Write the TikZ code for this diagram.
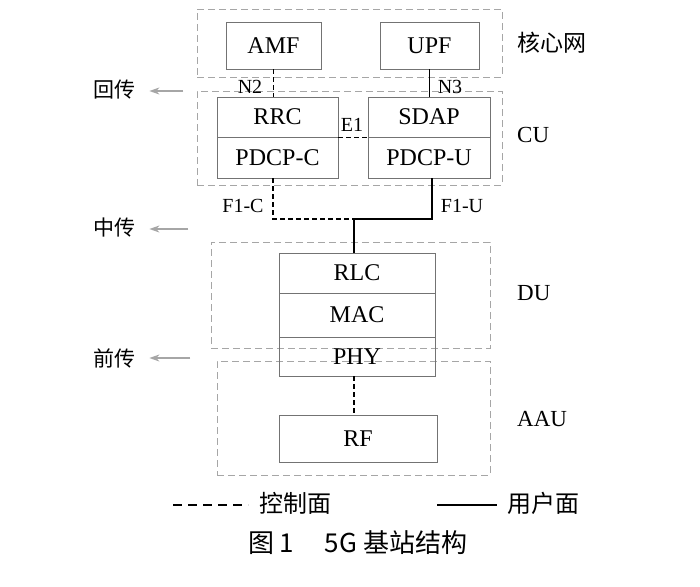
\documentclass[tikz,border=0pt]{standalone}
\usepackage{fontspec}
\setmainfont{Liberation Serif}
\newfontfamily\cjk{Noto Sans CJK SC}
\usetikzlibrary{arrows.meta}

\begin{document}
\begin{tikzpicture}[
    x=1pt, y=-1pt,
    >=Stealth,
    layer/.style={rectangle, draw=black!55, line width=0.8pt, inner sep=0pt, font=\fontsize{24}{26}\selectfont},
    region/.style={rectangle, draw=black!35, dash pattern=on 7pt off 4pt, line width=0.8pt, inner sep=0pt},
    ctrl/.style={dash pattern=on 5pt off 3pt, line width=1.1pt},
    user/.style={line width=1.1pt},
    ifname/.style={font=\fontsize{20}{21}\selectfont, inner sep=0pt},
    unitname/.style={anchor=west, font=\fontsize{23}{25}\selectfont, inner sep=0pt},
    haul/.style={anchor=west, font=\cjk\fontsize{21}{22}\selectfont, inner sep=0pt},
    hauldir/.style={-{Stealth[length=10pt, width=7pt]}, draw=black!35, fill=black!35, line width=1.3pt},
]

\useasboundingbox (0,0) rectangle (700,586);

% dashed regions
\node[region, minimum width=305pt, minimum height=68pt]  (core) at (349.5,43) {};
\node[region, minimum width=305pt, minimum height=94pt]  (cu)   at (349.5,138) {};
\node[region, minimum width=279pt, minimum height=106pt] (du)   at (350.5,295) {};
\node[region, minimum width=273pt, minimum height=114pt] (aau)  at (353.5,418) {};

% protocol boxes
\node[layer, minimum width=95pt,  minimum height=47pt] (amf)   at (273.5,45.5) {AMF};
\node[layer, minimum width=99pt,  minimum height=47pt] (upf)   at (429.5,45.5) {UPF};
\node[layer, minimum width=121pt, minimum height=40pt] (rrc)   at (277.5,117) {RRC};
\node[layer, minimum width=121pt, minimum height=41pt] (pdcpc) at (277.5,157.5) {PDCP-C};
\node[layer, minimum width=122pt, minimum height=40pt] (sdap)  at (429,117) {SDAP};
\node[layer, minimum width=122pt, minimum height=41pt] (pdcpu) at (429,157.5) {PDCP-U};
\node[layer, minimum width=156pt, minimum height=40pt] (rlc)   at (357,273) {RLC};
\node[layer, minimum width=156pt, minimum height=44pt] (mac)   at (357,315) {MAC};
\node[layer, minimum width=156pt, minimum height=39pt] (phy)   at (357,356.5) {PHY};
\node[layer, minimum width=158pt, minimum height=47pt] (rf)    at (358,438.5) {RF};

% unit names
\node[unitname] (corename) at (517,43) {\cjk 核心网};
\node[unitname] (cuname)   at (517,135) {CU};
\node[unitname] (duname)   at (517,293) {DU};
\node[unitname] (aauname)  at (517,419) {AAU};

% interfaces
\coordinate (f1) at (354,219);
\draw[ctrl] (amf.south) -- (amf.south |- rrc.north);
\draw[user] (upf.south) -- (upf.south |- sdap.north);
\draw[ctrl] (rrc.south east) -- (sdap.south west);
\draw[ctrl] ([xshift=-4.5pt]pdcpc.south) |- (f1);
\draw[user] ([xshift=3pt]pdcpu.south) |- (f1) -- (f1 |- rlc.north);
\draw[ctrl] (f1 |- phy.south) -- (f1 |- rf.north);

\node[ifname] (n2)  at (250,87)  {N2};
\node[ifname] (n3)  at (450,87)  {N3};
\node[ifname] (e1)  at (352,125) {E1};
\node[ifname] (f1c) at (243,206) {F1-C};
\node[ifname] (f1u) at (462,206) {F1-U};

% transport
\node[haul] (backhaul)  at (93,90)  {回传};
\node[haul] (midhaul)   at (93,228) {中传};
\node[haul] (fronthaul) at (93,358) {前传};
\coordinate (bh) at (183,91);
\coordinate (mh) at (188,229);
\coordinate (fh) at (190,358);
\draw[hauldir] (bh) -- ([xshift=14pt]backhaul.east |- bh);
\draw[hauldir] (mh) -- ([xshift=14pt]midhaul.east |- mh);
\draw[hauldir] (fh) -- ([xshift=14pt]fronthaul.east |- fh);

% legend
\coordinate (ca) at (173,505);
\coordinate (cb) at (248,505);
\coordinate (ua) at (437,505);
\coordinate (ub) at (497,505);
\draw[dash pattern=on 9pt off 6pt, line width=1.1pt] (ca) -- (cb);
\draw[user] (ua) -- (ub);
\node[haul, font=\cjk\fontsize{24}{26}\selectfont] (ctrlname) at (259,503) {控制面};
\node[haul, font=\cjk\fontsize{24}{26}\selectfont] (username) at (507,503) {用户面};

\node[font=\cjk\fontsize{26}{28}\selectfont, inner sep=0pt] (caption) at (358,543) {图\,1\hspace{1.2em}5G 基站结构};

\end{tikzpicture}
\end{document}
